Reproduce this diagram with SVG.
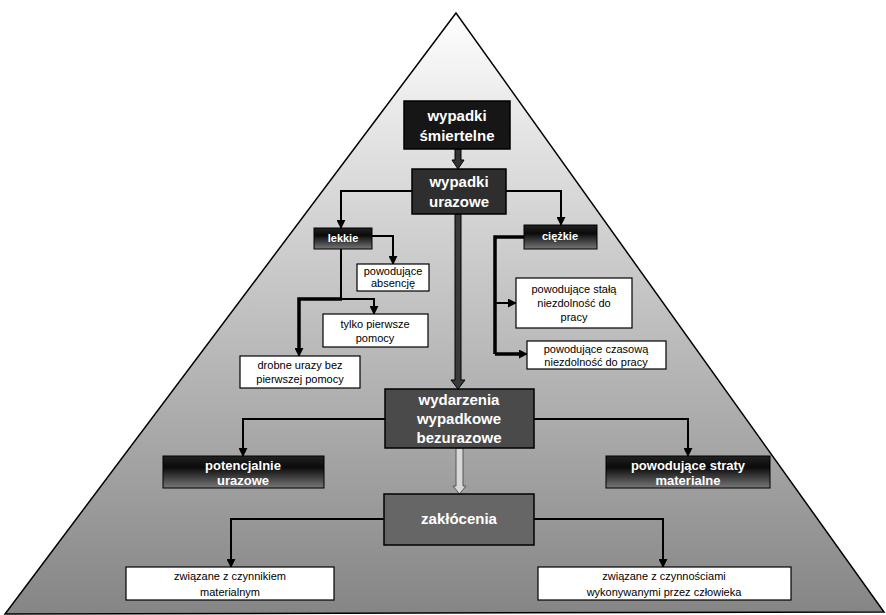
<svg xmlns="http://www.w3.org/2000/svg" width="886" height="615" viewBox="0 0 886 615">
<defs>
<linearGradient id="bg" x1="0" y1="0" x2="0" y2="1">
<stop offset="0" stop-color="#ffffff"/>
<stop offset="0.2" stop-color="#e4e4e4"/>
<stop offset="1" stop-color="#858585"/>
</linearGradient>
<linearGradient id="dk" x1="0" y1="0" x2="0" y2="1">
<stop offset="0" stop-color="#222"/>
<stop offset="0.35" stop-color="#0a0a0a"/>
<stop offset="1" stop-color="#777"/>
</linearGradient>
<marker id="ah" viewBox="0 0 10 10" refX="9" refY="5" markerWidth="9" markerHeight="9" orient="auto" markerUnits="userSpaceOnUse">
<path d="M0,0 L10,5 L0,10 z" fill="#000"/>
</marker>
<style>
.tri{fill:url(#bg);stroke:#000;stroke-width:1.5}
.c{fill:none;stroke:#000;stroke-width:2}
.ct{fill:none;stroke:#000;stroke-width:3.5}
.wb{fill:#fff;stroke:#000;stroke-width:1.2}
.db{stroke:#000;stroke-width:1.5}
.gb{fill:url(#dk);stroke:#000;stroke-width:1}
.tw{fill:#fff;font-family:"Liberation Sans",Arial,sans-serif;font-weight:bold;text-anchor:middle}
.tb{fill:#000;font-family:"Liberation Sans",Arial,sans-serif;text-anchor:middle;font-size:11px}
</style>
</defs>
<polygon class="tri" points="456,13 5,614 884,612"/>

<g id="connectors">
<path d="M455,149 V160 H452 L458,169 L464,160 H461 V149 z" fill="#333" stroke="#000" stroke-width="1"/>
<path class="c" d="M412,191 H341 V228" marker-end="url(#ah)"/>
<path class="c" d="M506,191 H561 V225" marker-end="url(#ah)"/>
<path d="M455,214 V380 H451 L458,389 L465,380 H461 V214 z" fill="#3a3a3a" stroke="#000" stroke-width="1"/>
<path class="c" d="M372,236 H393 V264" marker-end="url(#ah)"/>
<path class="c" d="M341,249 V299"/>
<path class="c" d="M341,299 H374 V314" marker-end="url(#ah)"/>
<path class="ct" d="M342,299 H299 V349"/>
<path class="c" d="M299,348 V356" marker-end="url(#ah)"/>
<path class="ct" d="M524,237 H495 V354"/>
<path class="c" d="M495,303 H516" marker-end="url(#ah)"/>
<path class="ct" d="M495,354 H520"/>
<path class="c" d="M519,354 H527" marker-end="url(#ah)"/>
<path class="c" d="M385,419 H243 V456" marker-end="url(#ah)"/>
<path class="c" d="M534,419 H688 V456" marker-end="url(#ah)"/>
<path d="M456,448 V486 H453 L459.5,494 L466,486 H463 V448 z" fill="#d8d8d8" stroke="#555" stroke-width="1"/>
<path class="c" d="M384,519 H231 V567" marker-end="url(#ah)"/>
<path class="c" d="M534,519 H663 V567" marker-end="url(#ah)"/>
</g>

<g id="n-smiertelne">
<rect class="db" x="404" y="101" width="106" height="48" fill="#161616"/>
<text class="tw" font-size="15" x="457" y="121">wypadki</text>
<text class="tw" font-size="15" x="457" y="141">śmiertelne</text>
</g>
<g id="n-urazowe">
<rect class="db" x="412" y="169" width="94" height="45" fill="#2e2e2e"/>
<text class="tw" font-size="15" x="459" y="187">wypadki</text>
<text class="tw" font-size="15" x="459" y="207">urazowe</text>
</g>
<g id="n-lekkie">
<rect class="gb" x="314" y="228" width="58" height="21"/>
<text class="tw" font-size="11" x="343" y="242">lekkie</text>
</g>
<g id="n-ciezkie">
<rect class="gb" x="524" y="225" width="73" height="24"/>
<text class="tw" font-size="11" x="560" y="240">ciężkie</text>
</g>
<g id="n-absencje">
<rect class="wb" x="357" y="264" width="72" height="27"/>
<text class="tb" font-size="10" x="393" y="275">powodujące</text>
<text class="tb" font-size="10" x="393" y="287">absencję</text>
</g>
<g id="n-tylko">
<rect class="wb" x="323" y="314" width="105" height="33"/>
<text class="tb" x="375" y="328">tylko pierwsze</text>
<text class="tb" x="375" y="342">pomocy</text>
</g>
<g id="n-drobne">
<rect class="wb" x="240" y="356" width="120" height="32"/>
<text class="tb" x="300" y="369">drobne urazy bez</text>
<text class="tb" x="300" y="383">pierwszej pomocy</text>
</g>
<g id="n-stala">
<rect class="wb" x="516" y="278" width="116" height="50"/>
<text class="tb" x="574" y="293">powodujące stałą</text>
<text class="tb" x="574" y="307">niezdolność do</text>
<text class="tb" x="574" y="321">pracy</text>
</g>
<g id="n-czasowa">
<rect class="wb" x="527" y="341" width="139" height="28"/>
<text class="tb" x="596" y="353">powodujące czasową</text>
<text class="tb" x="596" y="366">niezdolność do pracy</text>
</g>
<g id="n-wydarzenia">
<rect class="db" x="385" y="389" width="149" height="59" fill="#4a4a4a"/>
<text class="tw" font-size="15" x="459" y="405">wydarzenia</text>
<text class="tw" font-size="15" x="459" y="424">wypadkowe</text>
<text class="tw" font-size="15" x="459" y="443">bezurazowe</text>
</g>
<g id="n-potencjalnie">
<rect class="gb" x="163" y="456" width="161" height="32"/>
<text class="tw" font-size="13" x="243" y="470">potencjalnie</text>
<text class="tw" font-size="13" x="243" y="485">urazowe</text>
</g>
<g id="n-straty">
<rect class="gb" x="606" y="456" width="164" height="32"/>
<text class="tw" font-size="13" x="688" y="470">powodujące straty</text>
<text class="tw" font-size="13" x="688" y="485">materialne</text>
</g>
<g id="n-zaklocenia">
<rect class="db" x="384" y="494" width="150" height="51" fill="#666"/>
<text class="tw" font-size="15" x="459" y="524">zakłócenia</text>
</g>
<g id="n-materialnym">
<rect class="wb" x="126" y="567" width="208" height="33"/>
<text class="tb" font-size="12" x="230" y="580">związane z czynnikiem</text>
<text class="tb" font-size="12" x="230" y="596">materialnym</text>
</g>
<g id="n-czlowieka">
<rect class="wb" x="538" y="567" width="253" height="33"/>
<text class="tb" font-size="12" x="664" y="580">związane z czynnościami</text>
<text class="tb" font-size="12" x="664" y="596">wykonywanymi przez człowieka</text>
</g>
</svg>
